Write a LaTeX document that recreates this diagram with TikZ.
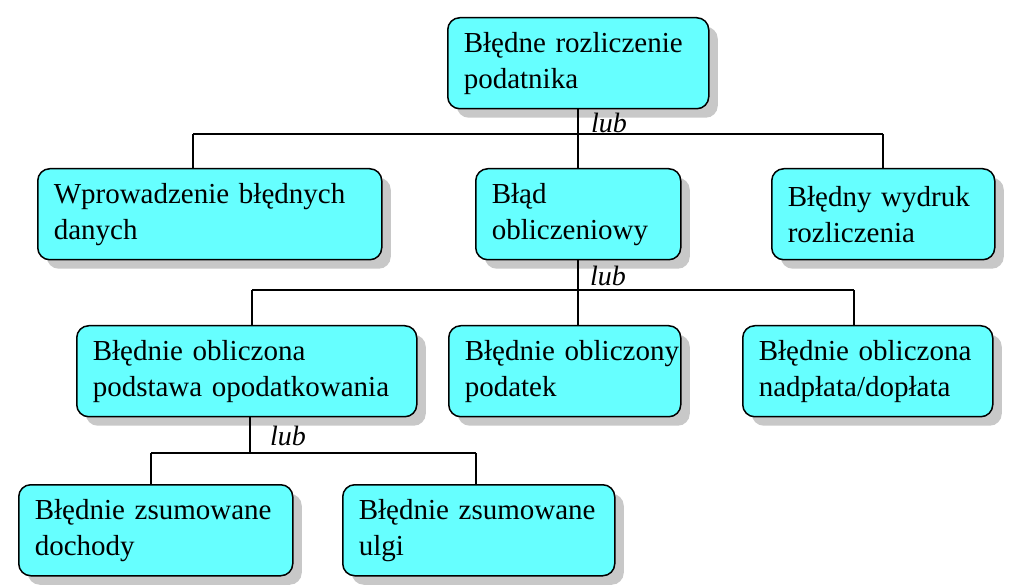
\documentclass[tikz,border=0pt]{standalone}
\usepackage{fontspec}
\setmainfont{Liberation Serif}
\usetikzlibrary{shadows}
\definecolor{boxcyan}{RGB}{102,255,255}
\definecolor{boxshade}{RGB}{200,200,200}
\tikzset{
  err box/.style={
    rectangle,
    rounded corners=12pt,
    anchor=north west,
    draw=black,
    line width=1.5pt,
    fill=boxcyan,
    drop shadow={shadow xshift=9pt, shadow yshift=-9pt, fill=boxshade, opacity=1},
    minimum height=91pt,
    inner xsep=16pt,
    align=left,
    font=\fontsize{29}{36}\selectfont,
  },
  err line/.style={line width=1.5pt},
  err lub/.style={font=\fontsize{28}{30}\selectfont\itshape, inner sep=0pt},
}
\begin{document}
\begin{tikzpicture}[x=1pt,y=-1pt]
  \useasboundingbox (0,0) rectangle (1013,585);

  % boxes
  \node[err box,text width=229pt] (root) at (447,17) {Błędne rozliczenie\\podatnika};

  \node[err box,text width=312pt] (input) at (37,168) {Wprowadzenie błędnych\\danych};
  \node[err box,text width=173pt] (calc) at (475,168) {Błąd\\obliczeniowy};
  \node[err box,text width=191pt] (print) at (771,168) {Błędny wydruk\\rozliczenia};

  \node[err box,text width=308pt] (base) at (76,325) {Błędnie obliczona\\podstawa opodatkowania};
  \node[err box,text width=200pt] (tax) at (448,325) {\mbox{Błędnie obliczony}\\podatek};
  \node[err box,text width=218pt] (refund) at (742,325) {Błędnie obliczona\\nadpłata/dopłata};

  \node[err box,text width=242pt] (income) at (18,484) {Błędnie zsumowane\\dochody};
  \node[err box,text width=240pt] (relief) at (342,484) {Błędnie zsumowane\\ulgi};

  % level 1
  \coordinate (t1) at (578,0);
  \coordinate (b1l) at (193,134);
  \coordinate (b1r) at (883,134);
  \draw[err line] (t1 |- root.south) -- (t1 |- calc.north);
  \draw[err line] (b1l) -- (b1r);
  \draw[err line] (b1l) -- (b1l |- input.north);
  \draw[err line] (b1r) -- (b1r |- print.north);
  \node[err lub] (lub1) at (609,123) {lub};

  % level 2
  \coordinate (b2l) at (252,290);
  \coordinate (b2r) at (854,290);
  \draw[err line] (t1 |- calc.south) -- (t1 |- tax.north);
  \draw[err line] (b2l) -- (b2r);
  \draw[err line] (b2l) -- (b2l |- base.north);
  \draw[err line] (b2r) -- (b2r |- refund.north);
  \node[err lub] (lub2) at (608,276) {lub};

  % level 3
  \coordinate (b3t) at (250,415);
  \coordinate (b3l) at (151,453);
  \coordinate (b3r) at (476,453);
  \draw[err line] (b3t |- base.south) -- (b3t |- b3l);
  \draw[err line] (b3l) -- (b3r);
  \draw[err line] (b3l) -- (b3l |- income.north);
  \draw[err line] (b3r) -- (b3r |- relief.north);
  \node[err lub] (lub3) at (288,436) {lub};
\end{tikzpicture}
\end{document}
